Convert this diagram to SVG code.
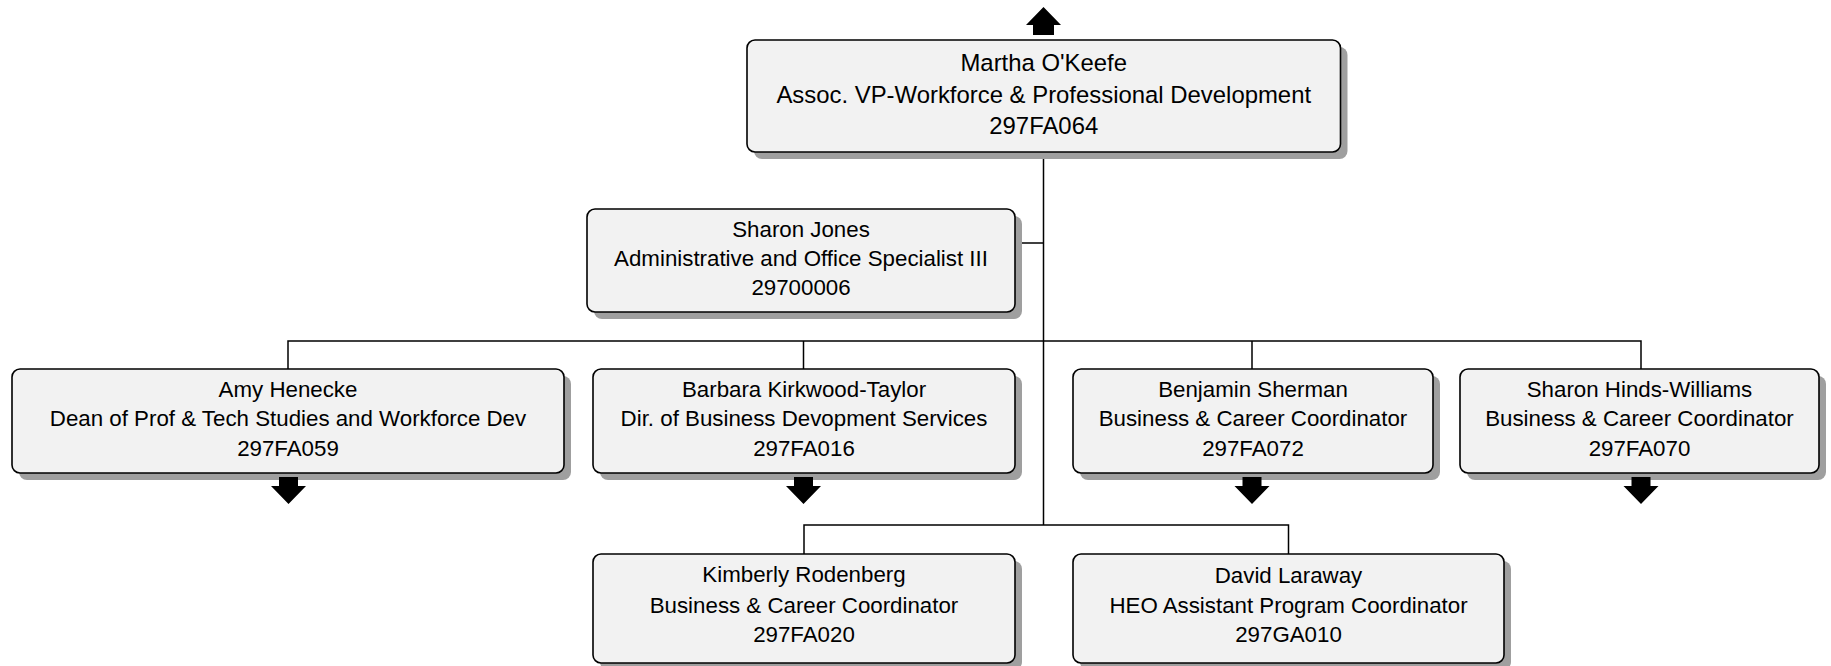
<svg xmlns="http://www.w3.org/2000/svg" width="1831" height="666" viewBox="0 0 1831 666">
<style>
.sh{fill:#9f9f9f;stroke:none}
.bx{fill:#f2f2f2;stroke:#000;stroke-width:1.6}
.t{font-family:"Liberation Sans",Arial,sans-serif;font-size:22.3px;fill:#000;text-anchor:middle}
.tl{font-size:23.9px}
.ln{fill:none;stroke:#000;stroke-width:1.5}
.ar{fill:#000}
</style>
<defs>
<path id="down" d="M-9.5,0 H9.5 V9 H17.5 L0,27 L-17.5,9 H-9.5 Z"/>
</defs>
<rect width="1831" height="666" fill="#fff"/>
<g id="connectors">
<path class="ln" d="M1043.5,152 V525"/>
<path class="ln" d="M1015,243 H1043.5"/>
<path class="ln" d="M288,369 V341 H1641 V369 M803.5,341 V369 M1252,341 V369"/>
<path class="ln" d="M804,554 V525 H1288.5 V554"/>
</g>
<g id="n_okeefe">
<rect class="sh" x="754" y="47" width="593.5" height="112" rx="8"/>
<rect class="bx" x="747" y="40" width="593.5" height="112" rx="8"/>
<path class="ar" d="M1043.5,7 L1061,25 H1054 V35 H1033 V25 H1026 Z"/>
<text class="t tl" x="1043.75" y="70.5">Martha O'Keefe</text>
<text class="t tl" x="1043.75" y="102.5">Assoc. VP-Workforce &amp; Professional Development</text>
<text class="t tl" x="1043.75" y="134">297FA064</text>
</g>
<g id="n_jones">
<rect class="sh" x="594" y="216" width="428" height="103" rx="8"/>
<rect class="bx" x="587" y="209" width="428" height="103" rx="8"/>
<text class="t" x="801" y="237">Sharon Jones</text>
<text class="t" x="801" y="266">Administrative and Office Specialist III</text>
<text class="t" x="801" y="295">29700006</text>
</g>
<g id="n_henecke">
<rect class="sh" x="19" y="376" width="552" height="104" rx="8"/>
<rect class="bx" x="12" y="369" width="552" height="104" rx="8"/>
<use href="#down" x="288.5" y="477"/>
<text class="t" x="288" y="397">Amy Henecke</text>
<text class="t" x="288" y="426">Dean of Prof &amp; Tech Studies and Workforce Dev</text>
<text class="t" x="288" y="455.5">297FA059</text>
</g>
<g id="n_kirkwood">
<rect class="sh" x="600" y="376" width="422" height="104" rx="8"/>
<rect class="bx" x="593" y="369" width="422" height="104" rx="8"/>
<use href="#down" x="803.5" y="477"/>
<text class="t" x="804" y="397">Barbara Kirkwood-Taylor</text>
<text class="t" x="804" y="426">Dir. of Business Devopment Services</text>
<text class="t" x="804" y="455.5">297FA016</text>
</g>
<g id="n_sherman">
<rect class="sh" x="1080" y="376" width="360" height="104" rx="8"/>
<rect class="bx" x="1073" y="369" width="360" height="104" rx="8"/>
<use href="#down" x="1252" y="477"/>
<text class="t" x="1253" y="397">Benjamin Sherman</text>
<text class="t" x="1253" y="426">Business &amp; Career Coordinator</text>
<text class="t" x="1253" y="455.5">297FA072</text>
</g>
<g id="n_hinds">
<rect class="sh" x="1467" y="376" width="359" height="104" rx="8"/>
<rect class="bx" x="1460" y="369" width="359" height="104" rx="8"/>
<use href="#down" x="1641" y="477"/>
<text class="t" x="1639.5" y="397">Sharon Hinds-Williams</text>
<text class="t" x="1639.5" y="426">Business &amp; Career Coordinator</text>
<text class="t" x="1639.5" y="455.5">297FA070</text>
</g>
<g id="n_rodenberg">
<rect class="sh" x="600" y="561" width="422" height="109" rx="8"/>
<rect class="bx" x="593" y="554" width="422" height="109" rx="8"/>
<text class="t" x="804" y="582">Kimberly Rodenberg</text>
<text class="t" x="804" y="612.5">Business &amp; Career Coordinator</text>
<text class="t" x="804" y="642">297FA020</text>
</g>
<g id="n_laraway">
<rect class="sh" x="1080" y="561" width="431" height="109" rx="8"/>
<rect class="bx" x="1073" y="554" width="431" height="109" rx="8"/>
<text class="t" x="1288.5" y="583">David Laraway</text>
<text class="t" x="1288.5" y="612.5">HEO Assistant Program Coordinator</text>
<text class="t" x="1288.5" y="642">297GA010</text>
</g>
</svg>
